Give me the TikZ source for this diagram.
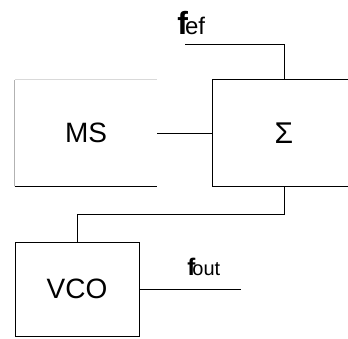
\documentclass[tikz,border=0pt]{standalone}
\usepackage{fontspec}
\setmainfont{Liberation Sans}
\begin{document}
\begin{tikzpicture}[x=1pt,y=-1pt,line width=0.8pt,
  box/.style={rectangle,inner sep=0pt,font=\fontsize{28}{30}\selectfont},
  lbl/.style={inner sep=0pt,anchor=base west}]
\useasboundingbox (0,0) rectangle (348,338);
% MS block
\node[box,minimum width=142pt,minimum height=106pt] (ms) at (86,133) {MS};
\draw[draw=black!30] (ms.south west) -- (ms.north west);
\draw[draw=black!15] (ms.north west) -- (ms.north east);
\draw (ms.south west) -- (ms.south east);
% Sigma block
\node[box,minimum width=142pt,minimum height=106pt,font=\fontsize{30}{30}\selectfont] (sum) at (284,133) {Σ};
\draw (sum.north east) -- (sum.north west) -- (sum.south west) -- (sum.south east);
% VCO block
\node[box,draw,minimum width=124pt,minimum height=94pt] (vco) at (77,289) {VCO};
% labels
\node[lbl] (fef) at (177,34) {{\fontsize{32}{32}\selectfont\bfseries f}\kern-3pt{\fontsize{24}{24}\selectfont ef}};
\node[lbl] (fo) at (187,275) {{\fontsize{24}{24}\selectfont\bfseries f}\kern-3pt{\fontsize{20}{20}\selectfont out}};
% connectors
\coordinate (fin) at (185,44);
\coordinate (fout) at (241,289);
\draw (fin) -- (fin -| sum.north) -- (sum.north);
\draw (ms.east) -- (sum.west);
\draw (sum.south) -- ++(0,28) -| (vco.north);
\draw (vco.east) -- (fout);
\end{tikzpicture}
\end{document}
